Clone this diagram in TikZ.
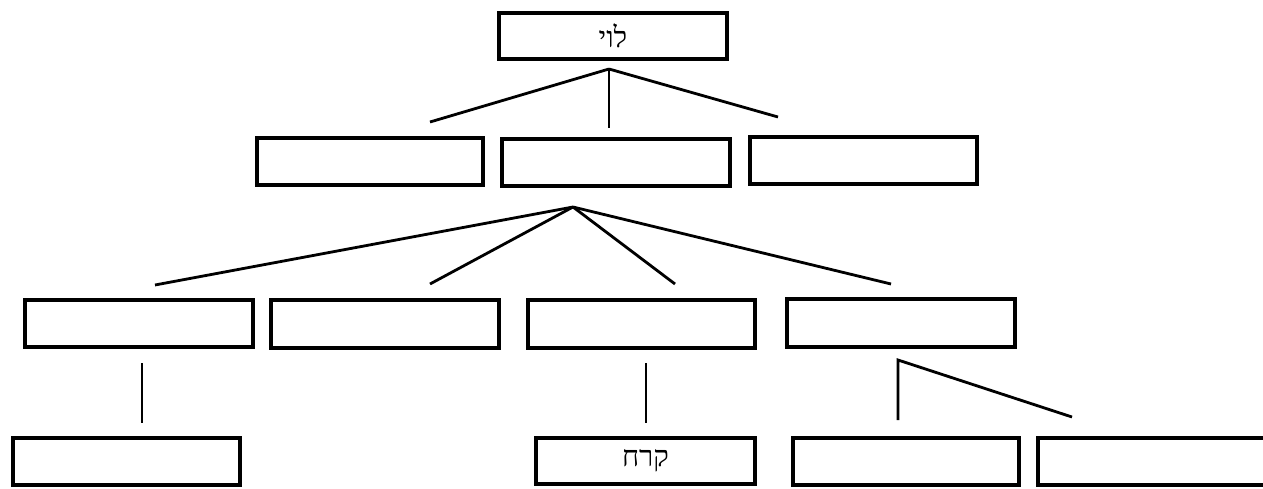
\documentclass[tikz,border=0pt]{standalone}
\usepackage{fontspec}
\newfontfamily\hebfont[Script=Hebrew]{Liberation Serif}
\TeXXeTstate=1
\begin{document}
\begin{tikzpicture}[x=1pt,y=-1pt,
  box/.style={draw=black, line width=4pt, fill=white, inner sep=0pt, rectangle},
  conn/.style={draw=black, line width=2.8pt},
  lbl/.style={font=\hebfont\fontsize{29}{31}\selectfont}]
\useasboundingbox (0,0) rectangle (1263,489);
\clip (0,0) rectangle (1263,489);
% row 1
\node[box, minimum width=228pt, minimum height=46pt, lbl] (T) at (613,36) {\beginR לוי\endR};
% row 2
\node[box, minimum width=226pt, minimum height=47pt] (A) at (370,161.5) {};
\node[box, minimum width=228pt, minimum height=47pt] (B) at (616,162.5) {};
\node[box, minimum width=227pt, minimum height=47pt] (C) at (863.5,160.5) {};
% row 3
\node[box, minimum width=228pt, minimum height=47pt] (R1) at (139,323.5) {};
\node[box, minimum width=228pt, minimum height=48pt] (R2) at (385,324) {};
\node[box, minimum width=227pt, minimum height=48pt] (R3) at (641.5,324) {};
\node[box, minimum width=228pt, minimum height=48pt] (R4) at (901,323) {};
% row 4
\node[box, minimum width=227pt, minimum height=47pt] (S1) at (126.5,461.5) {};
\node[box, minimum width=219pt, minimum height=46pt, lbl] (S2) at (645.5,461) {\beginR קרח\endR};
\node[box, minimum width=226pt, minimum height=47pt] (S3) at (906,461.5) {};
\node[box, minimum width=250pt, minimum height=47pt] (S4) at (1163,461.5) {};
% connector points
\coordinate (t0) at (609,69);
\coordinate (t1) at (430,122);
\coordinate (t2) at (609,128);
\coordinate (t3) at (778,117);
\coordinate (b0) at (573,207);
\coordinate (b1) at (155,285);
\coordinate (b2) at (430,284);
\coordinate (b3) at (675,284);
\coordinate (b4) at (891,284);
\coordinate (r1a) at (142,363);
\coordinate (r1b) at (142,423);
\coordinate (r3a) at (646,363);
\coordinate (r3b) at (646,423);
\coordinate (r4a) at (898,360);
\coordinate (r4b) at (898,420);
\coordinate (r4c) at (1072,417);
% connectors
\draw[conn] (t0) -- (t1);
\draw[conn] (t0) -- (t2);
\draw[conn] (t0) -- (t3);
\draw[conn] (b0) -- (b1);
\draw[conn] (b0) -- (b2);
\draw[conn] (b0) -- (b3);
\draw[conn] (b0) -- (b4);
\draw[conn] (r1a) -- (r1b);
\draw[conn] (r3a) -- (r3b);
\draw[conn] (r4b) -- (r4a) -- (r4c);
\end{tikzpicture}
\end{document}
